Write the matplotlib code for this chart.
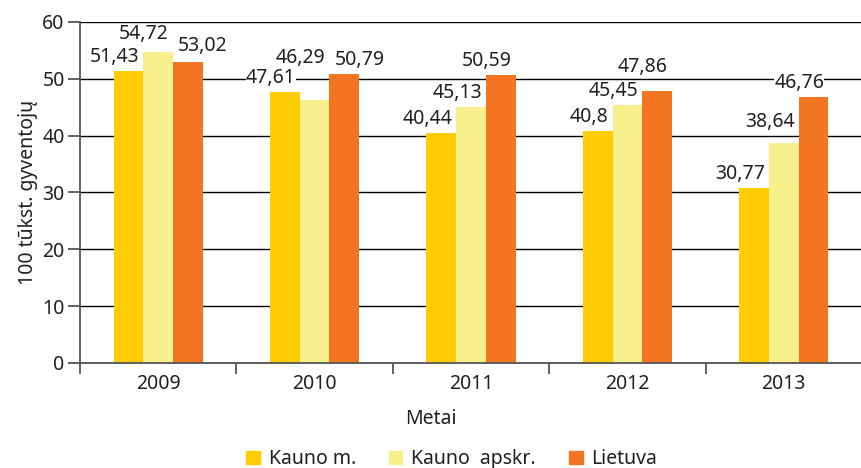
import numpy as np
import matplotlib.pyplot as plt

plt.rcParams['font.family'] = ['Noto Sans', 'DejaVu Sans']

years = ['2009', '2010', '2011', '2012', '2013']
kauno_m = [51.43, 47.61, 40.44, 40.8, 30.77]
kauno_apskr = [54.72, 46.29, 45.13, 45.45, 38.64]
lietuva = [53.02, 50.79, 50.59, 47.86, 46.76]
series_names = ['Kauno m.', 'Kauno  apskr.', 'Lietuva']
colors = ['#FFCC05', '#F8F08C', '#F37522']

# labels that were moved by hand in the original (group, series) -> extra lift in px
label_lift = {(0, 1): 4, (0, 2): 2, (1, 1): 28, (3, 2): 10, (4, 1): 7}
# labels placed to the right of the bar instead of left
label_left = {(0, 2), (1, 2)}

fig = plt.figure(figsize=(8.62, 4.68), dpi=100)
ax = fig.add_axes([0.0928, 0.2244, 0.9072, 0.7286])

x = np.arange(len(years))
w = 0.19
all_series = [kauno_m, kauno_apskr, lietuva]

for j, (vals, name, col) in enumerate(zip(all_series, series_names, colors)):
    pos = x + (j - 1) * w
    ax.bar(pos, vals, width=w, color=col, label=name, zorder=2)
    for i, v in enumerate(vals):
        txt = f"{v:g}".replace('.', ',')
        lift = 14 + label_lift.get((i, j), 0)
        if (i, j) in label_left:
            xy, dx, ha = (pos[i] - w / 2, v), 5, 'left'
        else:
            xy, dx, ha = (pos[i] + w / 2, v), -4, 'right'
        ax.annotate(txt, xy=xy, xytext=(dx, lift), textcoords='offset pixels',
                    ha=ha, va='center', fontsize=14, color='#231F20', zorder=4,
                    bbox=dict(boxstyle='square,pad=0.0', fc='white', ec='none'))

ax.set_xlim(-0.5, len(years) - 0.5)
ax.set_ylim(0, 60)
ax.set_yticks(range(0, 61, 10))
ax.yaxis.grid(True, color='black', linewidth=1.0, zorder=0)
ax.set_axisbelow(True)

ax.set_xticks(x)
ax.set_xticklabels(years)
ax.set_xticks(np.arange(-0.5, len(years) - 0.5, 1.0), minor=True)
ax.tick_params(axis='x', which='major', length=0, pad=8, labelsize=14, labelcolor='#231F20')
ax.tick_params(axis='x', which='minor', length=8, width=1.3, color='#555555', direction='out')
ax.tick_params(axis='y', length=9, width=1.3, color='#555555', labelsize=14, pad=2,
               labelcolor='#231F20')

for s in ['top', 'right']:
    ax.spines[s].set_visible(False)
for s in ['left', 'bottom']:
    ax.spines[s].set_color('#555555')
    ax.spines[s].set_linewidth(1.3)
    ax.spines[s].set_zorder(3)

ax.set_xlabel('Metai', fontsize=14, color='#231F20', va='center')
ax.xaxis.set_label_coords(0.449, -0.163)
ax.set_ylabel('100 tūkst. gyventojų', fontsize=14, labelpad=3, color='#231F20')

handles = [plt.Rectangle((0, 0), 1, 1, color=c) for c in colors]
fig.legend(handles, series_names, loc='lower center', bbox_to_anchor=(0.524, -0.04),
           ncol=3, frameon=False, fontsize=14, handlelength=0.7, handleheight=0.7,
           handletextpad=0.45, columnspacing=1.7, labelcolor='#231F20')

fig.savefig('out.png', dpi=100)
